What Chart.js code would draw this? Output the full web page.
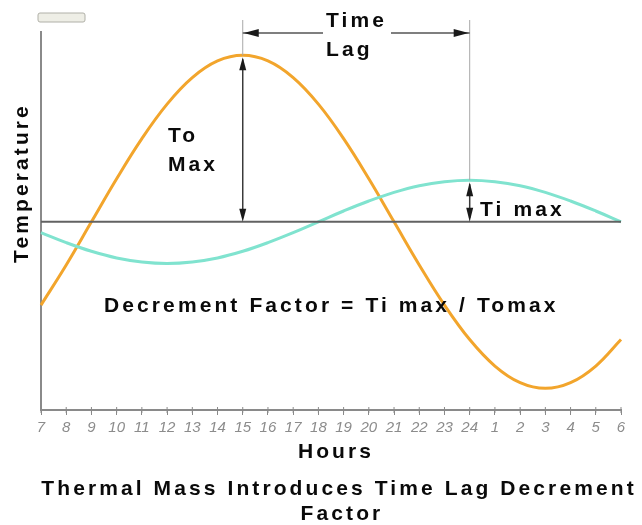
<!DOCTYPE html>
<html>
<head>
<meta charset="utf-8">
<script src="https://cdn.jsdelivr.net/npm/chart.js@4.4.1/dist/chart.umd.min.js"></script>
<style>
  html, body { margin: 0; padding: 0; background: #fff; }
  #wrap { width: 642px; height: 525px; }
</style>
</head>
<body>
<div id="wrap"><canvas id="chart" width="642" height="525"></canvas></div>
<script>
const hours = ['7', '8', '9', '10', '11', '12', '13', '14', '15', '16', '17', '18',
               '19', '20', '21', '22', '23', '24', '1', '2', '3', '4', '5', '6'];
// outside air temperature (orange)
const outdoorTemp = [15.0, 17.41, 20.0, 22.59, 25.0, 27.07, 28.66, 29.66, 30.0, 29.66, 28.66, 27.07,
                     25.0, 22.59, 20.0, 17.41, 15.0, 12.93, 11.34, 10.34, 10.0, 10.34, 11.34, 12.93];
// inside temperature behind the thermal mass (cyan)
const indoorTemp = [19.35, 18.75, 18.23, 17.83, 17.59, 17.5, 17.59, 17.83, 18.23, 18.75, 19.35, 20.0,
                    20.65, 21.25, 21.77, 22.17, 22.41, 22.5, 22.41, 22.17, 21.77, 21.25, 20.65, 20.0];
const meanLevel = 20;
const outdoorPeakHour = '15';
const indoorPeakHour = '24';

const FONT = '"Liberation Sans", Arial, sans-serif';

function label(ctx, text, x, y, align) {
    ctx.save();
    ctx.font = `bold 21px ${FONT}`;
    ctx.letterSpacing = '3.1px';
    ctx.fillStyle = '#0a0a0a';
    ctx.textAlign = align || 'left';
    ctx.textBaseline = 'middle';
    ctx.fillText(text, x, y);
    ctx.restore();
}

// filled arrow head, tip at (x, y), pointing along (dx, dy)
function arrowHead(ctx, x, y, dx, dy, len, half) {
    const bx = x - dx * len, by = y - dy * len;
    ctx.beginPath();
    ctx.moveTo(x, y);
    ctx.lineTo(bx - dy * half, by + dx * half);
    ctx.lineTo(bx + dy * half, by - dx * half);
    ctx.closePath();
    ctx.fill();
}

function line(ctx, x1, y1, x2, y2, color, width) {
    ctx.beginPath();
    ctx.strokeStyle = color;
    ctx.lineWidth = width;
    ctx.moveTo(x1, y1);
    ctx.lineTo(x2, y2);
    ctx.stroke();
}

const annotations = {
    id: 'annotations',
    afterDraw(chart) {
        const { ctx, chartArea: area, scales: { x, y } } = chart;
        const peakX = x.getPixelForValue(hours.indexOf(outdoorPeakHour));
        const lagX = x.getPixelForValue(hours.indexOf(indoorPeakHour));
        const meanY = y.getPixelForValue(meanLevel);
        const outPeakY = y.getPixelForValue(outdoorTemp[hours.indexOf(outdoorPeakHour)]);
        const inPeakY = y.getPixelForValue(indoorTemp[hours.indexOf(indoorPeakHour)]);
        const topY = area.top - 12;
        const lagY = area.top + 1;

        ctx.save();
        // little grey box top left
        ctx.beginPath();
        ctx.roundRect(38, 13, 47, 9, 2);
        ctx.fillStyle = '#eeeee6';
        ctx.fill();
        ctx.strokeStyle = '#b0b0a8';
        ctx.lineWidth = 1;
        ctx.stroke();

        // small tick marks crossing the hour axis
        hours.forEach((h, i) => {
            const px = x.getPixelForValue(i);
            line(ctx, px, area.bottom - 3, px, area.bottom + 3, '#8a8a8a', 1);
        });

        // extension lines up to the time lag arrow
        line(ctx, peakX, topY, peakX, outPeakY, '#a8a8a8', 1);
        line(ctx, lagX, topY, lagX, inPeakY, '#a8a8a8', 1);

        // To max arrow
        ctx.fillStyle = '#1a1a1a';
        line(ctx, peakX, outPeakY + 4, peakX, meanY - 4, '#3a3a3a', 1.5);
        arrowHead(ctx, peakX, outPeakY + 2, 0, -1, 13, 3.5);
        arrowHead(ctx, peakX, meanY, 0, 1, 13, 3.5);

        // Ti max arrow
        line(ctx, lagX, inPeakY + 4, lagX, meanY - 4, '#3a3a3a', 1.5);
        arrowHead(ctx, lagX, inPeakY + 2, 0, -1, 14, 3.5);
        arrowHead(ctx, lagX, meanY, 0, 1, 14, 3.5);

        // time lag arrow
        line(ctx, peakX, lagY, 323, lagY, '#555', 1.5);
        line(ctx, 391, lagY, lagX, lagY, '#555', 1.5);
        arrowHead(ctx, peakX + 1, lagY, -1, 0, 15, 4);
        arrowHead(ctx, lagX - 1, lagY, 1, 0, 15, 4);
        ctx.restore();

        label(ctx, 'Time', 326, 21);
        label(ctx, 'Lag', 326, 50);
        label(ctx, 'To', 168, 136);
        label(ctx, 'Max', 168, 165);
        label(ctx, 'Ti max', 480, 210);
        label(ctx, 'Decrement Factor = Ti max / Tomax', 104, 306);

        // axis titles and chart title
        label(ctx, 'Hours', (area.left + area.right) / 2 + 5, 452, 'center');
        ctx.save();
        ctx.translate(22, 183);
        ctx.rotate(-Math.PI / 2);
        label(ctx, 'Temperature', 0, 0, 'center');
        ctx.restore();
        label(ctx, 'Thermal Mass Introduces Time Lag Decrement', 339, 489, 'center');
        label(ctx, 'Factor', 342, 514, 'center');
    }
};

new Chart(document.getElementById('chart'), {
    type: 'line',
    data: {
        labels: hours,
        datasets: [
            {
                data: hours.map(() => meanLevel),
                borderColor: '#626262',
                borderWidth: 2,
                pointRadius: 0
            },
            {
                data: indoorTemp,
                borderColor: '#80e3cf',
                borderWidth: 3,
                pointRadius: 0,
                tension: 0.4
            },
            {
                data: outdoorTemp,
                borderColor: '#f2a52c',
                borderWidth: 3,
                pointRadius: 0,
                tension: 0.4
            }
        ]
    },
    options: {
        responsive: false,
        animation: false,
        layout: { padding: { left: 41, right: 21, top: 32, bottom: 0 } },
        plugins: {
            legend: { display: false },
            tooltip: { enabled: false }
        },
        scales: {
            x: {
                grid: { drawOnChartArea: false, tickLength: 5, color: '#8a8a8a' },
                border: { color: '#8a8a8a', width: 2 },
                ticks: {
                    color: '#8c8c8c',
                    font: { family: FONT, size: 15, style: 'italic' },
                    padding: 4,
                    maxRotation: 0,
                    autoSkip: false
                },
                afterFit: s => { s.height = 115; }
            },
            y: {
                min: 8.7,
                max: 31.4,
                grid: { display: false },
                ticks: { display: false },
                border: { color: '#8a8a8a', width: 2 },
                afterFit: s => { s.width = 0; }
            }
        }
    },
    plugins: [annotations]
});
</script>
</body>
</html>
